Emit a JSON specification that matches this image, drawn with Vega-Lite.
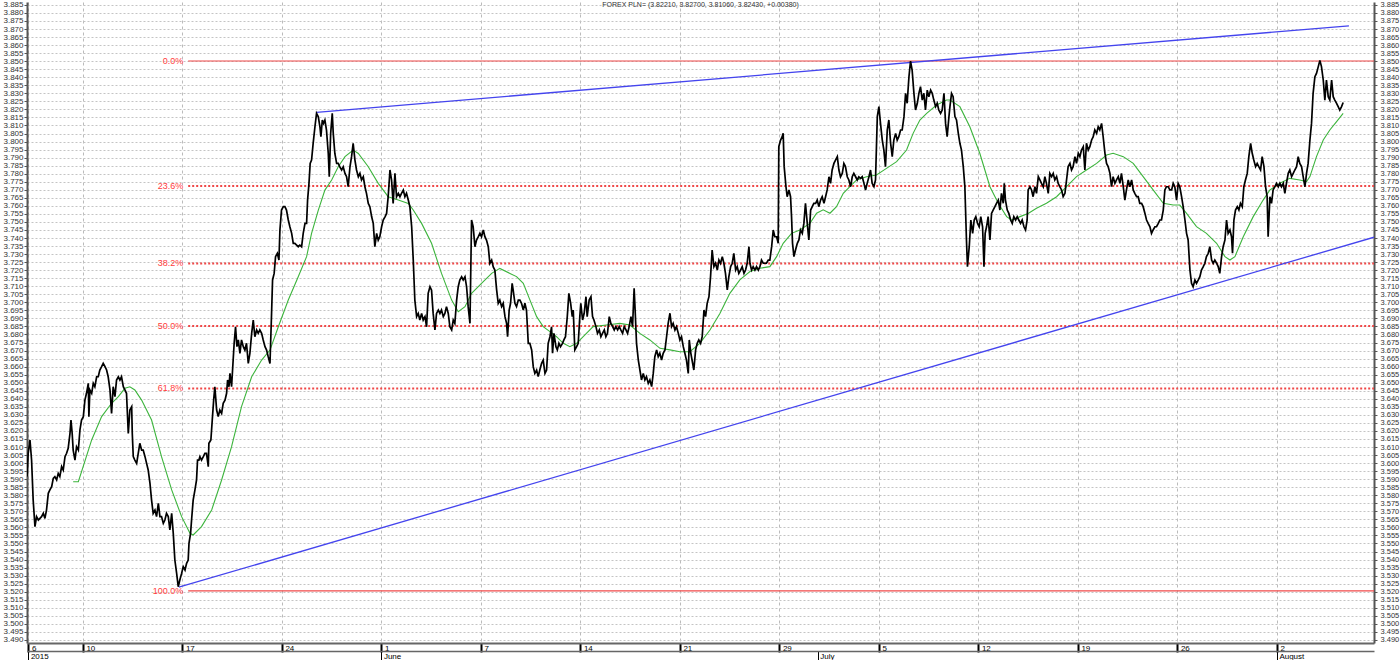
{
"$schema": "https://vega.github.io/schema/vega-lite/v6.json",
"width": 1347, "height": 641,
"autosize": {"type": "none"},
"padding": {"left": 27, "top": 2, "right": 26, "bottom": 17},
"background": "white",
"title": {"text": "FOREX PLN= (3.82210, 3.82700, 3.81060, 3.82430, +0.00380)", "fontSize": 7, "fontWeight": "normal", "font": "Liberation Sans", "color": "#333333", "anchor": "middle", "offset": -7},
"config": {"view": {"stroke": null}, "axis": {"labelFont": "Liberation Sans", "labelFontSize": 8, "labelColor": "#333333", "title": null}},
"datasets": {
"fib": [
{"level": 0, "label": "0.0%", "v": 3.8501, "t0": 5.29, "t1": 64.88},
{"level": 23.6, "label": "23.6%", "v": 3.7723, "t0": 5.29, "t1": 64.88},
{"level": 38.2, "label": "38.2%", "v": 3.7242, "t0": 5.29, "t1": 64.88},
{"level": 50, "label": "50.0%", "v": 3.6853, "t0": 5.29, "t1": 64.88},
{"level": 61.8, "label": "61.8%", "v": 3.6464, "t0": 5.29, "t1": 64.88},
{"level": 100, "label": "100.0%", "v": 3.5205, "t0": 5.29, "t1": 64.88}
],
"trend": [
{"id": "upper", "t": 11.74, "p": 3.8182}, {"id": "upper", "t": 63.62, "p": 3.8720},
{"id": "lower", "t": 4.82, "p": 3.5228}, {"id": "lower", "t": 64.88, "p": 3.7405}
],
"ma": [
{"t":-0.49,"p":3.5884},{"t":-0.23,"p":3.5884},{"t":0.44,"p":3.6144},{"t":0.94,"p":3.6289},{"t":1.44,"p":3.6372},{"t":1.78,"p":3.6413},{"t":2.11,"p":3.6465},{"t":2.36,"p":3.6475},{"t":2.61,"p":3.6455},{"t":2.95,"p":3.6392},{"t":3.45,"p":3.6268},{"t":3.95,"p":3.6040},{"t":4.46,"p":3.5833},{"t":4.96,"p":3.5667},{"t":5.38,"p":3.5563},{"t":5.54,"p":3.5553},{"t":5.96,"p":3.5605},{"t":6.47,"p":3.5708},{"t":6.97,"p":3.5895},{"t":7.47,"p":3.6102},{"t":7.97,"p":3.6351},{"t":8.48,"p":3.6537},{"t":8.98,"p":3.6641},{"t":9.40,"p":3.6703},{"t":9.82,"p":3.6848},{"t":10.32,"p":3.7014},{"t":10.82,"p":3.7159},{"t":11.24,"p":3.7284},{"t":11.49,"p":3.7429},{"t":11.83,"p":3.7574},{"t":12.16,"p":3.7698},{"t":12.50,"p":3.7761},{"t":12.83,"p":3.7843},{"t":13.17,"p":3.7906},{"t":13.58,"p":3.7947},{"t":13.84,"p":3.7926},{"t":14.34,"p":3.7843},{"t":14.84,"p":3.7740},{"t":15.34,"p":3.7657},{"t":15.85,"p":3.7636},{"t":16.35,"p":3.7615},{"t":16.60,"p":3.7574},{"t":17.02,"p":3.7491},{"t":17.52,"p":3.7367},{"t":18.02,"p":3.7180},{"t":18.53,"p":3.7014},{"t":18.86,"p":3.6942},{"t":19.20,"p":3.6973},{"t":19.53,"p":3.7056},{"t":20.03,"p":3.7118},{"t":20.54,"p":3.7180},
{"t":20.95,"p":3.7211},{"t":21.46,"p":3.7180},{"t":21.79,"p":3.7160},{"t":22.13,"p":3.7118},{"t":22.46,"p":3.7015},{"t":22.80,"p":3.6911},{"t":23.13,"p":3.6849},{"t":23.47,"p":3.6818},{"t":23.80,"p":3.6786},{"t":24.14,"p":3.6745},{"t":24.47,"p":3.6724},{"t":24.81,"p":3.6745},{"t":25.14,"p":3.6786},{"t":25.64,"p":3.6849},{"t":26.31,"p":3.6859},{"t":26.98,"p":3.6869},{"t":27.49,"p":3.6859},{"t":27.99,"p":3.6807},{"t":28.49,"p":3.6766},{"t":29.00,"p":3.6714},{"t":29.50,"p":3.6704},{"t":30.00,"p":3.6693},{"t":30.50,"p":3.6693},{"t":31.00,"p":3.6745},{"t":31.51,"p":3.6828},{"t":32.01,"p":3.6931},{"t":32.51,"p":3.7056},{"t":33.01,"p":3.7140},{"t":33.52,"p":3.7192},{"t":34.02,"p":3.7212},{"t":34.52,"p":3.7222},{"t":34.86,"p":3.7284},{"t":35.19,"p":3.7367},{"t":35.61,"p":3.7429},{"t":36.03,"p":3.7450},{"t":36.53,"p":3.7491},{"t":36.87,"p":3.7554},{"t":37.20,"p":3.7575},{"t":37.54,"p":3.7554},{"t":37.87,"p":3.7595},{"t":38.21,"p":3.7678},{"t":38.54,"p":3.7719},{"t":38.88,"p":3.7761},{"t":39.38,"p":3.7781},{"t":39.88,"p":3.7792},{"t":40.38,"p":3.7833},{"t":40.89,"p":3.7875},{"t":41.39,"p":3.7947},{"t":41.72,"p":3.8051},{"t":42.06,"p":3.8134},{"t":42.40,"p":3.8175},{"t":42.90,"p":3.8227},{"t":43.40,"p":3.8258},
{"t":43.57,"p":3.8258},{"t":44.07,"p":3.8217},{"t":44.57,"p":3.8092},{"t":45.07,"p":3.7927},{"t":45.58,"p":3.7719},{"t":46.00,"p":3.7616},{"t":46.42,"p":3.7533},{"t":46.67,"p":3.7512},{"t":47.09,"p":3.7533},{"t":47.50,"p":3.7553},{"t":47.92,"p":3.7585},{"t":48.42,"p":3.7616},{"t":48.93,"p":3.7657},{"t":49.43,"p":3.7719},{"t":49.93,"p":3.7782},{"t":50.43,"p":3.7823},{"t":50.94,"p":3.7864},{"t":51.44,"p":3.7916},{"t":51.77,"p":3.7927},{"t":52.28,"p":3.7906},{"t":52.78,"p":3.7864},{"t":53.28,"p":3.7782},{"t":53.78,"p":3.7699},{"t":54.29,"p":3.7616},{"t":54.79,"p":3.7605},{"t":55.12,"p":3.7605},{"t":55.46,"p":3.7553},{"t":55.96,"p":3.7471},{"t":56.46,"p":3.7429},{"t":56.97,"p":3.7367},{"t":57.39,"p":3.7284},{"t":57.64,"p":3.7263},{"t":57.89,"p":3.7284},{"t":58.31,"p":3.7408},{"t":58.81,"p":3.7533},{"t":59.31,"p":3.7636},{"t":59.65,"p":3.7699},{"t":60.15,"p":3.7740},{"t":60.65,"p":3.7771},{"t":61.15,"p":3.7761},{"t":61.49,"p":3.7751},{"t":61.66,"p":3.7782},{"t":61.99,"p":3.7906},{"t":62.33,"p":3.8010},{"t":62.66,"p":3.8072},{"t":63.00,"p":3.8124},{"t":63.33,"p":3.8175}
],
"price": [
{"t":-2.81,"p":3.5916},{"t":-2.75,"p":3.6061},{"t":-2.66,"p":3.6144},{"t":-2.58,"p":3.6019},{"t":-2.50,"p":3.5770},{"t":-2.41,"p":3.5605},{"t":-2.33,"p":3.5667},{"t":-2.24,"p":3.5646},{"t":-2.08,"p":3.5667},{"t":-1.99,"p":3.5688},{"t":-1.91,"p":3.5656},{"t":-1.83,"p":3.5708},{"t":-1.74,"p":3.5812},{"t":-1.66,"p":3.5833},{"t":-1.57,"p":3.5853},{"t":-1.49,"p":3.5905},{"t":-1.41,"p":3.5916},{"t":-1.32,"p":3.5895},{"t":-1.24,"p":3.5936},{"t":-1.16,"p":3.5916},{"t":-1.07,"p":3.5978},{"t":-0.99,"p":3.5957},{"t":-0.90,"p":3.6040},{"t":-0.82,"p":3.6061},{"t":-0.74,"p":3.6092},{"t":-0.65,"p":3.6185},{"t":-0.60,"p":3.6268},{"t":-0.54,"p":3.6185},{"t":-0.49,"p":3.6081},{"t":-0.40,"p":3.6019},{"t":-0.32,"p":3.6102},{"t":-0.23,"p":3.6081},{"t":-0.15,"p":3.6206},{"t":-0.07,"p":3.6268},{"t":0.02,"p":3.6289},{"t":0.10,"p":3.6392},{"t":0.18,"p":3.6434},{"t":0.27,"p":3.6496},{"t":0.30,"p":3.6289},{"t":0.35,"p":3.6455},{"t":0.44,"p":3.6434},{"t":0.52,"p":3.6496},{"t":0.60,"p":3.6475},{"t":0.69,"p":3.6537},{"t":0.77,"p":3.6537},{"t":0.85,"p":3.6579},{"t":0.94,"p":3.6600},{"t":1.02,"p":3.6620},{"t":1.11,"p":3.6600},{"t":1.19,"p":3.6579},{"t":1.27,"p":3.6537},{"t":1.36,"p":3.6455},{"t":1.44,"p":3.6309},{"t":1.52,"p":3.6475},{"t":1.61,"p":3.6413},{"t":1.69,"p":3.6517},{"t":1.78,"p":3.6537},{"t":1.86,"p":3.6517},{"t":1.94,"p":3.6537},{"t":2.03,"p":3.6475},{"t":2.11,"p":3.6455},{"t":2.19,"p":3.6434},{"t":2.28,"p":3.6185},{"t":2.36,"p":3.6330},{"t":2.45,"p":3.6351},{"t":2.48,"p":3.6185},{"t":2.53,"p":3.6040},{"t":2.61,"p":3.6019},{"t":2.70,"p":3.5998},{"t":2.78,"p":3.6061},{"t":2.86,"p":3.6123},{"t":2.95,"p":3.6081},{"t":3.03,"p":3.6081},{"t":3.12,"p":3.6040},{"t":3.20,"p":3.5998},{"t":3.28,"p":3.5957},{"t":3.37,"p":3.5874},{"t":3.45,"p":3.5770},{"t":3.53,"p":3.5687},{"t":3.62,"p":3.5708},{"t":3.70,"p":3.5667},{"t":3.79,"p":3.5750},{"t":3.87,"p":3.5667},{"t":3.95,"p":3.5667},{"t":4.04,"p":3.5625},{"t":4.12,"p":3.5646},{"t":4.20,"p":3.5687},{"t":4.29,"p":3.5667},{"t":4.37,"p":3.5584},{"t":4.46,"p":3.5687},{"t":4.54,"p":3.5563},{"t":4.62,"p":3.5397},{"t":4.71,"p":3.5314},{"t":4.79,"p":3.5231},{"t":4.87,"p":3.5273},{"t":4.96,"p":3.5314},{"t":5.04,"p":3.5356},{"t":5.13,"p":3.5335},{"t":5.21,"p":3.5377},{"t":5.29,"p":3.5397},{"t":5.33,"p":3.5501},{"t":5.41,"p":3.5563},{"t":5.46,"p":3.5646},{"t":5.54,"p":3.5770},{"t":5.63,"p":3.5833},{"t":5.71,"p":3.5895},{"t":5.76,"p":3.6019},{"t":5.83,"p":3.6019},{"t":5.88,"p":3.6040},{"t":5.96,"p":3.6019},{"t":6.05,"p":3.6040},{"t":6.13,"p":3.6061},{"t":6.21,"p":3.6061},{"t":6.30,"p":3.5978},{"t":6.33,"p":3.6123},{"t":6.43,"p":3.6144},{"t":6.50,"p":3.6268},{"t":6.57,"p":3.6392},{"t":6.63,"p":3.6475},{"t":6.72,"p":3.6330},{"t":6.80,"p":3.6289},{"t":6.88,"p":3.6330},{"t":6.97,"p":3.6309},{"t":7.05,"p":3.6372},{"t":7.14,"p":3.6392},{"t":7.22,"p":3.6434},{"t":7.27,"p":3.6517},{"t":7.34,"p":3.6475},{"t":7.39,"p":3.6558},{"t":7.47,"p":3.6475},{"t":7.55,"p":3.6641},{"t":7.60,"p":3.6745},{"t":7.67,"p":3.6848},{"t":7.74,"p":3.6724},{"t":7.81,"p":3.6766},{"t":7.89,"p":3.6683},{"t":7.97,"p":3.6766},{"t":8.06,"p":3.6724},{"t":8.14,"p":3.6703},{"t":8.22,"p":3.6745},{"t":8.31,"p":3.6620},{"t":8.39,"p":3.6683},{"t":8.48,"p":3.6807},{"t":8.56,"p":3.6890},{"t":8.64,"p":3.6786},{"t":8.73,"p":3.6828},{"t":8.81,"p":3.6807},{"t":8.89,"p":3.6828},{"t":8.98,"p":3.6807},{"t":9.06,"p":3.6766},{"t":9.15,"p":3.6724},{"t":9.23,"p":3.6703},{"t":9.31,"p":3.6662},{"t":9.40,"p":3.6620},{"t":9.48,"p":3.6931},{"t":9.53,"p":3.7139},{"t":9.61,"p":3.7180},{"t":9.68,"p":3.7284},{"t":9.77,"p":3.7305},{"t":9.85,"p":3.7263},{"t":9.90,"p":3.7450},{"t":9.98,"p":3.7574},{"t":10.07,"p":3.7595},{"t":10.15,"p":3.7595},{"t":10.23,"p":3.7574},{"t":10.32,"p":3.7512},{"t":10.40,"p":3.7470},{"t":10.49,"p":3.7429},{"t":10.57,"p":3.7367},{"t":10.65,"p":3.7367},{"t":10.74,"p":3.7356},{"t":10.82,"p":3.7346},{"t":10.90,"p":3.7356},{"t":10.99,"p":3.7346},{"t":11.07,"p":3.7429},{"t":11.16,"p":3.7491},{"t":11.24,"p":3.7491},{"t":11.29,"p":3.7636},{"t":11.36,"p":3.7740},{"t":11.42,"p":3.7864},{"t":11.49,"p":3.7885},{"t":11.57,"p":3.7989},{"t":11.66,"p":3.8092},{"t":11.74,"p":3.8175},{"t":11.83,"p":3.8154},{"t":11.91,"p":3.8092},{"t":11.96,"p":3.8030},{"t":12.03,"p":3.8134},{"t":12.09,"p":3.8113},{"t":12.16,"p":3.8134},{"t":12.24,"p":3.8071},{"t":12.33,"p":3.7926},{"t":12.38,"p":3.7781},{"t":12.45,"p":3.8051},{"t":12.53,"p":3.8175},{"t":12.58,"p":3.8051},{"t":12.66,"p":3.7926},{"t":12.75,"p":3.7864},{"t":12.83,"p":3.7864},{"t":12.91,"p":3.7843},{"t":13.00,"p":3.7823},{"t":13.08,"p":3.7843},{"t":13.17,"p":3.7802},{"t":13.25,"p":3.7781},{"t":13.33,"p":3.7719},{"t":13.42,"p":3.7843},{"t":13.50,"p":3.7906},{"t":13.58,"p":3.7989},{"t":13.67,"p":3.7885},{"t":13.75,"p":3.7823},{"t":13.84,"p":3.7781},{"t":13.92,"p":3.7802},{"t":14.00,"p":3.7761},{"t":14.09,"p":3.7781},{"t":14.17,"p":3.7719},{"t":14.25,"p":3.7678},{"t":14.34,"p":3.7615},{"t":14.42,"p":3.7595},{"t":14.51,"p":3.7532},{"t":14.59,"p":3.7491},{"t":14.67,"p":3.7346},{"t":14.76,"p":3.7429},{"t":14.84,"p":3.7387},{"t":14.92,"p":3.7408},{"t":15.01,"p":3.7470},{"t":15.09,"p":3.7512},{"t":15.18,"p":3.7532},{"t":15.26,"p":3.7553},{"t":15.34,"p":3.7657},{"t":15.43,"p":3.7823},{"t":15.51,"p":3.7761},{"t":15.59,"p":3.7615},{"t":15.68,"p":3.7802},{"t":15.76,"p":3.7657},{"t":15.85,"p":3.7678},{"t":15.93,"p":3.7657},{"t":16.01,"p":3.7678},{"t":16.10,"p":3.7698},{"t":16.18,"p":3.7657},{"t":16.26,"p":3.7678},{"t":16.35,"p":3.7636},{"t":16.43,"p":3.7595},{"t":16.52,"p":3.7470},{"t":16.60,"p":3.7263},{"t":16.68,"p":3.7014},{"t":16.77,"p":3.6911},{"t":16.85,"p":3.6931},{"t":16.93,"p":3.6890},{"t":17.02,"p":3.6931},{"t":17.10,"p":3.6890},{"t":17.19,"p":3.6911},{"t":17.27,"p":3.6848},{"t":17.35,"p":3.7056},{"t":17.44,"p":3.7097},{"t":17.52,"p":3.7076},{"t":17.60,"p":3.6931},{"t":17.69,"p":3.6828},{"t":17.77,"p":3.6931},{"t":17.86,"p":3.6952},{"t":17.94,"p":3.6931},{"t":18.02,"p":3.6952},{"t":18.11,"p":3.6911},{"t":18.19,"p":3.6931},{"t":18.27,"p":3.6973},{"t":18.36,"p":3.6931},{"t":18.44,"p":3.6848},{"t":18.53,"p":3.6828},{"t":18.61,"p":3.6890},{"t":18.69,"p":3.6869},{"t":18.78,"p":3.7014},{"t":18.86,"p":3.7097},{"t":18.94,"p":3.7139},{"t":19.03,"p":3.7159},{"t":19.11,"p":3.7139},{"t":19.20,"p":3.7159},{"t":19.28,"p":3.7097},{"t":19.36,"p":3.6973},{"t":19.45,"p":3.6869},{"t":19.53,"p":3.7512},{"t":19.61,"p":3.7470},{"t":19.70,"p":3.7346},{"t":19.78,"p":3.7387},{"t":19.87,"p":3.7408},{"t":19.95,"p":3.7429},{"t":20.03,"p":3.7408},{"t":20.12,"p":3.7450},{"t":20.20,"p":3.7408},{"t":20.28,"p":3.7387},{"t":20.37,"p":3.7346},{"t":20.45,"p":3.7242},{"t":20.54,"p":3.7263},{"t":20.62,"p":3.7220},
{"t":20.70,"p":3.7201},{"t":20.79,"p":3.7077},{"t":20.87,"p":3.6994},{"t":20.95,"p":3.7014},{"t":21.04,"p":3.6973},{"t":21.12,"p":3.6994},{"t":21.21,"p":3.6911},{"t":21.29,"p":3.6869},{"t":21.34,"p":3.6786},{"t":21.42,"p":3.6952},{"t":21.49,"p":3.6994},{"t":21.57,"p":3.7118},{"t":21.62,"p":3.7077},{"t":21.71,"p":3.6994},{"t":21.79,"p":3.6973},{"t":21.88,"p":3.7014},{"t":21.96,"p":3.7014},{"t":22.04,"p":3.6994},{"t":22.13,"p":3.6952},{"t":22.21,"p":3.6994},{"t":22.29,"p":3.6952},{"t":22.38,"p":3.6745},{"t":22.46,"p":3.6745},{"t":22.55,"p":3.6704},{"t":22.63,"p":3.6600},{"t":22.71,"p":3.6558},{"t":22.80,"p":3.6579},{"t":22.88,"p":3.6538},{"t":22.96,"p":3.6579},{"t":23.05,"p":3.6621},{"t":23.13,"p":3.6641},{"t":23.22,"p":3.6558},{"t":23.30,"p":3.6579},{"t":23.38,"p":3.6745},{"t":23.47,"p":3.6786},{"t":23.55,"p":3.6848},{"t":23.60,"p":3.6683},{"t":23.67,"p":3.6807},{"t":23.77,"p":3.6724},{"t":23.84,"p":3.6704},{"t":23.92,"p":3.6745},{"t":24.00,"p":3.6724},{"t":24.10,"p":3.6745},{"t":24.17,"p":3.6766},{"t":24.25,"p":3.6786},{"t":24.34,"p":3.6911},{"t":24.42,"p":3.7056},{"t":24.51,"p":3.6994},{"t":24.59,"p":3.6911},{"t":24.64,"p":3.6952},{"t":24.72,"p":3.6704},{"t":24.81,"p":3.6724},{"t":24.89,"p":3.6745},{"t":24.97,"p":3.6911},{"t":25.02,"p":3.6994},{"t":25.11,"p":3.6890},{"t":25.19,"p":3.6932},{"t":25.28,"p":3.7035},{"t":25.34,"p":3.6911},{"t":25.44,"p":3.7014},{"t":25.53,"p":3.7035},{"t":25.61,"p":3.6911},{"t":25.68,"p":3.6890},{"t":25.78,"p":3.6849},{"t":25.86,"p":3.6807},{"t":25.95,"p":3.6828},{"t":26.03,"p":3.6786},{"t":26.11,"p":3.6807},{"t":26.20,"p":3.6828},{"t":26.28,"p":3.6786},{"t":26.36,"p":3.6807},{"t":26.45,"p":3.6911},{"t":26.53,"p":3.6869},{"t":26.62,"p":3.6849},{"t":26.70,"p":3.6828},{"t":26.78,"p":3.6849},{"t":26.87,"p":3.6828},{"t":26.95,"p":3.6849},{"t":27.03,"p":3.6828},{"t":27.12,"p":3.6807},{"t":27.20,"p":3.6849},{"t":27.29,"p":3.6828},{"t":27.37,"p":3.6807},{"t":27.45,"p":3.6849},{"t":27.54,"p":3.6911},{"t":27.62,"p":3.6849},{"t":27.70,"p":3.7087},{"t":27.75,"p":3.6952},{"t":27.82,"p":3.6745},{"t":27.91,"p":3.6641},{"t":27.99,"p":3.6579},{"t":28.07,"p":3.6517},{"t":28.16,"p":3.6558},{"t":28.24,"p":3.6517},{"t":28.32,"p":3.6538},{"t":28.41,"p":3.6496},{"t":28.49,"p":3.6517},{"t":28.58,"p":3.6476},{"t":28.66,"p":3.6558},{"t":28.74,"p":3.6662},{"t":28.83,"p":3.6704},{"t":28.91,"p":3.6662},{"t":28.99,"p":3.6683},{"t":29.08,"p":3.6641},{"t":29.16,"p":3.6683},{"t":29.25,"p":3.6704},{"t":29.33,"p":3.6786},{"t":29.41,"p":3.6869},{"t":29.50,"p":3.6932},{"t":29.58,"p":3.6849},{"t":29.66,"p":3.6869},{"t":29.75,"p":3.6828},{"t":29.83,"p":3.6849},{"t":29.92,"p":3.6807},{"t":30.00,"p":3.6766},{"t":30.08,"p":3.6786},{"t":30.17,"p":3.6724},{"t":30.25,"p":3.6683},{"t":30.33,"p":3.6641},{"t":30.42,"p":3.6558},{"t":30.47,"p":3.6766},{"t":30.55,"p":3.6683},{"t":30.64,"p":3.6621},{"t":30.70,"p":3.6579},{"t":30.79,"p":3.6704},{"t":30.87,"p":3.6745},{"t":30.95,"p":3.6766},{"t":31.04,"p":3.6745},{"t":31.12,"p":3.6786},{"t":31.21,"p":3.6952},{"t":31.29,"p":3.6911},{"t":31.37,"p":3.6994},{"t":31.46,"p":3.7035},{"t":31.54,"p":3.7160},{"t":31.62,"p":3.7325},{"t":31.71,"p":3.7222},{"t":31.79,"p":3.7243},{"t":31.88,"p":3.7201},{"t":31.96,"p":3.7263},{"t":32.04,"p":3.7243},{"t":32.13,"p":3.7284},{"t":32.21,"p":3.7243},{"t":32.29,"p":3.7180},{"t":32.38,"p":3.7077},{"t":32.46,"p":3.7160},{"t":32.55,"p":3.7222},{"t":32.63,"p":3.7243},{"t":32.71,"p":3.7305},{"t":32.80,"p":3.7201},{"t":32.88,"p":3.7222},{"t":32.96,"p":3.7180},{"t":33.05,"p":3.7201},{"t":33.13,"p":3.7222},{"t":33.22,"p":3.7180},{"t":33.30,"p":3.7201},{"t":33.38,"p":3.7243},{"t":33.47,"p":3.7346},{"t":33.52,"p":3.7243},{"t":33.60,"p":3.7201},{"t":33.68,"p":3.7222},{"t":33.77,"p":3.7201},{"t":33.85,"p":3.7222},{"t":33.94,"p":3.7201},{"t":34.02,"p":3.7222},{"t":34.10,"p":3.7263},{"t":34.19,"p":3.7243},{"t":34.27,"p":3.7243},{"t":34.35,"p":3.7243},{"t":34.44,"p":3.7263},{"t":34.52,"p":3.7263},{"t":34.61,"p":3.7346},{"t":34.69,"p":3.7450},{"t":34.77,"p":3.7408},{"t":34.86,"p":3.7408},{"t":34.94,"p":3.7367},{"t":34.97,"p":3.7968},{"t":35.06,"p":3.8009},{"t":35.14,"p":3.8030},{"t":35.19,"p":3.8051},{"t":35.24,"p":3.7844},{"t":35.33,"p":3.7719},{"t":35.39,"p":3.7657},{"t":35.48,"p":3.7699},{"t":35.56,"p":3.7657},{"t":35.61,"p":3.7533},{"t":35.66,"p":3.7367},{"t":35.73,"p":3.7284},{"t":35.81,"p":3.7325},{"t":35.90,"p":3.7367},{"t":35.98,"p":3.7388},{"t":36.06,"p":3.7450},{"t":36.15,"p":3.7429},{"t":36.23,"p":3.7491},{"t":36.31,"p":3.7616},{"t":36.40,"p":3.7491},{"t":36.48,"p":3.7388},{"t":36.57,"p":3.7574},{"t":36.65,"p":3.7595},{"t":36.73,"p":3.7616},{"t":36.82,"p":3.7616},{"t":36.90,"p":3.7636},{"t":36.98,"p":3.7595},{"t":37.07,"p":3.7636},{"t":37.15,"p":3.7657},{"t":37.24,"p":3.7616},{"t":37.32,"p":3.7657},{"t":37.40,"p":3.7699},{"t":37.49,"p":3.7781},{"t":37.57,"p":3.7740},{"t":37.65,"p":3.7823},{"t":37.74,"p":3.7864},{"t":37.82,"p":3.7885},{"t":37.91,"p":3.7906},{"t":37.99,"p":3.7823},{"t":38.07,"p":3.7781},{"t":38.16,"p":3.7802},{"t":38.24,"p":3.7864},{"t":38.32,"p":3.7844},{"t":38.41,"p":3.7781},{"t":38.49,"p":3.7761},{"t":38.58,"p":3.7719},{"t":38.66,"p":3.7781},{"t":38.74,"p":3.7802},{"t":38.83,"p":3.7781},{"t":38.91,"p":3.7761},{"t":38.99,"p":3.7781},{"t":39.08,"p":3.7771},{"t":39.16,"p":3.7781},{"t":39.25,"p":3.7740},{"t":39.33,"p":3.7699},{"t":39.41,"p":3.7740},{"t":39.50,"p":3.7781},{"t":39.58,"p":3.7823},{"t":39.66,"p":3.7740},{"t":39.75,"p":3.7719},{"t":39.83,"p":3.7761},{"t":39.92,"p":3.8155},{"t":40.00,"p":3.8217},{"t":40.08,"p":3.8113},{"t":40.17,"p":3.8009},{"t":40.25,"p":3.7947},{"t":40.33,"p":3.7844},{"t":40.42,"p":3.8072},{"t":40.50,"p":3.8134},{"t":40.59,"p":3.7989},{"t":40.67,"p":3.7906},{"t":40.75,"p":3.8009},{"t":40.84,"p":3.8051},{"t":40.92,"p":3.8009},{"t":41.00,"p":3.8030},{"t":41.09,"p":3.8072},{"t":41.17,"p":3.8072},{"t":41.26,"p":3.8155},{"t":41.34,"p":3.8300},{"t":41.42,"p":3.8238},{"t":41.51,"p":3.8403},{"t":41.59,"p":3.8500},{"t":41.67,"p":3.8445},{"t":41.76,"p":3.8300},{"t":41.84,"p":3.8196},{"t":41.93,"p":3.8238},{"t":42.01,"p":3.8300},{"t":42.09,"p":3.8341},{"t":42.18,"p":3.8258},{"t":42.26,"p":3.8300},{"t":42.34,"p":3.8196},{"t":42.43,"p":3.8320},{"t":42.51,"p":3.8279},{"t":42.60,"p":3.8320},{"t":42.68,"p":3.8300},{"t":42.76,"p":3.8258},{"t":42.85,"p":3.8217},{"t":42.93,"p":3.8238},{"t":43.01,"p":3.8196},{"t":43.10,"p":3.8175},{"t":43.18,"p":3.8196},{"t":43.27,"p":3.8300},{"t":43.35,"p":3.8113},{"t":43.43,"p":3.8030},{"t":43.52,"p":3.8155},
{"t":43.57,"p":3.8217},{"t":43.65,"p":3.8299},{"t":43.73,"p":3.8279},{"t":43.82,"p":3.8155},{"t":43.90,"p":3.8134},{"t":43.99,"p":3.8051},{"t":44.07,"p":3.7989},{"t":44.15,"p":3.7947},{"t":44.24,"p":3.7844},{"t":44.32,"p":3.7719},{"t":44.40,"p":3.7388},{"t":44.45,"p":3.7222},{"t":44.54,"p":3.7346},{"t":44.62,"p":3.7512},{"t":44.71,"p":3.7429},{"t":44.79,"p":3.7512},{"t":44.87,"p":3.7533},{"t":44.96,"p":3.7491},{"t":45.04,"p":3.7470},{"t":45.12,"p":3.7533},{"t":45.21,"p":3.7470},{"t":45.28,"p":3.7222},{"t":45.34,"p":3.7429},{"t":45.41,"p":3.7470},{"t":45.49,"p":3.7533},{"t":45.58,"p":3.7388},{"t":45.66,"p":3.7553},{"t":45.74,"p":3.7574},{"t":45.83,"p":3.7595},{"t":45.91,"p":3.7616},{"t":46.00,"p":3.7636},{"t":46.08,"p":3.7574},{"t":46.16,"p":3.7678},{"t":46.25,"p":3.7616},{"t":46.30,"p":3.7740},{"t":46.36,"p":3.7636},{"t":46.45,"p":3.7574},{"t":46.53,"p":3.7553},{"t":46.62,"p":3.7512},{"t":46.70,"p":3.7491},{"t":46.78,"p":3.7533},{"t":46.87,"p":3.7512},{"t":46.95,"p":3.7533},{"t":47.03,"p":3.7512},{"t":47.12,"p":3.7491},{"t":47.20,"p":3.7512},{"t":47.29,"p":3.7470},{"t":47.37,"p":3.7450},{"t":47.45,"p":3.7512},{"t":47.50,"p":3.7699},{"t":47.59,"p":3.7719},{"t":47.67,"p":3.7699},{"t":47.75,"p":3.7657},{"t":47.84,"p":3.7719},{"t":47.92,"p":3.7678},{"t":48.01,"p":3.7782},{"t":48.09,"p":3.7761},{"t":48.17,"p":3.7740},{"t":48.26,"p":3.7719},{"t":48.34,"p":3.7782},{"t":48.42,"p":3.7740},{"t":48.51,"p":3.7678},{"t":48.59,"p":3.7802},{"t":48.68,"p":3.7782},{"t":48.76,"p":3.7802},{"t":48.84,"p":3.7761},{"t":48.93,"p":3.7782},{"t":49.01,"p":3.7740},{"t":49.09,"p":3.7719},{"t":49.18,"p":3.7699},{"t":49.26,"p":3.7657},{"t":49.35,"p":3.7678},{"t":49.43,"p":3.7761},{"t":49.51,"p":3.7844},{"t":49.60,"p":3.7864},{"t":49.68,"p":3.7823},{"t":49.76,"p":3.7844},{"t":49.85,"p":3.7906},{"t":49.93,"p":3.7864},{"t":50.02,"p":3.7927},{"t":50.10,"p":3.7906},{"t":50.18,"p":3.7947},{"t":50.27,"p":3.7968},{"t":50.35,"p":3.7823},{"t":50.43,"p":3.7989},{"t":50.52,"p":3.7947},{"t":50.60,"p":3.7968},{"t":50.69,"p":3.8010},{"t":50.77,"p":3.8030},{"t":50.85,"p":3.8072},{"t":50.94,"p":3.8051},{"t":51.02,"p":3.8092},{"t":51.10,"p":3.8072},{"t":51.19,"p":3.8113},{"t":51.27,"p":3.8030},{"t":51.36,"p":3.7927},{"t":51.44,"p":3.7864},{"t":51.52,"p":3.7844},{"t":51.61,"p":3.7802},{"t":51.69,"p":3.7719},{"t":51.77,"p":3.7782},{"t":51.86,"p":3.7740},{"t":51.94,"p":3.7761},{"t":52.03,"p":3.7782},{"t":52.11,"p":3.7740},{"t":52.19,"p":3.7802},{"t":52.28,"p":3.7719},{"t":52.36,"p":3.7636},{"t":52.44,"p":3.7699},{"t":52.53,"p":3.7761},{"t":52.61,"p":3.7719},{"t":52.70,"p":3.7761},{"t":52.78,"p":3.7699},{"t":52.86,"p":3.7678},{"t":52.95,"p":3.7657},{"t":53.03,"p":3.7657},{"t":53.11,"p":3.7616},{"t":53.20,"p":3.7616},{"t":53.28,"p":3.7595},{"t":53.37,"p":3.7553},{"t":53.45,"p":3.7512},{"t":53.53,"p":3.7491},{"t":53.62,"p":3.7470},{"t":53.70,"p":3.7429},{"t":53.78,"p":3.7450},{"t":53.87,"p":3.7470},{"t":53.95,"p":3.7470},{"t":54.04,"p":3.7491},{"t":54.12,"p":3.7512},{"t":54.20,"p":3.7512},{"t":54.29,"p":3.7574},{"t":54.37,"p":3.7699},{"t":54.45,"p":3.7719},{"t":54.54,"p":3.7719},{"t":54.62,"p":3.7699},{"t":54.71,"p":3.7699},{"t":54.79,"p":3.7740},{"t":54.87,"p":3.7719},{"t":54.96,"p":3.7636},{"t":55.04,"p":3.7740},{"t":55.12,"p":3.7719},{"t":55.21,"p":3.7657},{"t":55.29,"p":3.7595},{"t":55.38,"p":3.7512},{"t":55.46,"p":3.7429},{"t":55.54,"p":3.7388},{"t":55.63,"p":3.7201},{"t":55.71,"p":3.7118},{"t":55.79,"p":3.7097},{"t":55.88,"p":3.7139},{"t":55.96,"p":3.7118},{"t":56.05,"p":3.7139},{"t":56.13,"p":3.7160},{"t":56.21,"p":3.7201},{"t":56.30,"p":3.7222},{"t":56.38,"p":3.7243},{"t":56.46,"p":3.7284},{"t":56.55,"p":3.7305},{"t":56.63,"p":3.7346},{"t":56.72,"p":3.7263},{"t":56.80,"p":3.7243},{"t":56.88,"p":3.7263},{"t":56.97,"p":3.7243},{"t":57.05,"p":3.7222},{"t":57.13,"p":3.7180},{"t":57.22,"p":3.7284},{"t":57.30,"p":3.7346},{"t":57.39,"p":3.7388},{"t":57.47,"p":3.7512},{"t":57.55,"p":3.7429},{"t":57.64,"p":3.7450},{"t":57.72,"p":3.7408},{"t":57.77,"p":3.7305},{"t":57.84,"p":3.7512},{"t":57.92,"p":3.7574},{"t":58.01,"p":3.7595},{"t":58.09,"p":3.7574},{"t":58.17,"p":3.7616},{"t":58.26,"p":3.7595},{"t":58.34,"p":3.7719},{"t":58.42,"p":3.7761},{"t":58.51,"p":3.7802},{"t":58.59,"p":3.7906},{"t":58.68,"p":3.7989},{"t":58.76,"p":3.7927},{"t":58.84,"p":3.7885},{"t":58.93,"p":3.7844},{"t":59.01,"p":3.7864},{"t":59.09,"p":3.7844},{"t":59.18,"p":3.7823},{"t":59.26,"p":3.7906},{"t":59.35,"p":3.7844},{"t":59.43,"p":3.7719},{"t":59.51,"p":3.7657},{"t":59.56,"p":3.7408},{"t":59.65,"p":3.7657},{"t":59.73,"p":3.7616},{"t":59.81,"p":3.7699},{"t":59.90,"p":3.7719},{"t":59.98,"p":3.7740},{"t":60.07,"p":3.7719},{"t":60.15,"p":3.7740},{"t":60.23,"p":3.7719},{"t":60.32,"p":3.7740},{"t":60.40,"p":3.7678},{"t":60.48,"p":3.7740},{"t":60.57,"p":3.7802},{"t":60.65,"p":3.7823},{"t":60.74,"p":3.7782},{"t":60.82,"p":3.7802},{"t":60.90,"p":3.7823},{"t":60.99,"p":3.7844},{"t":61.07,"p":3.7906},{"t":61.15,"p":3.7864},{"t":61.24,"p":3.7844},{"t":61.32,"p":3.7782},{"t":61.41,"p":3.7719},{"t":61.49,"p":3.7802},{"t":61.57,"p":3.7864},{"t":61.66,"p":3.8010},{"t":61.74,"p":3.8113},{"t":61.82,"p":3.8300},{"t":61.91,"p":3.8403},{"t":61.99,"p":3.8424},{"t":62.08,"p":3.8466},{"t":62.16,"p":3.8505},{"t":62.24,"p":3.8466},{"t":62.33,"p":3.8383},{"t":62.41,"p":3.8258},{"t":62.49,"p":3.8383},{"t":62.58,"p":3.8279},{"t":62.66,"p":3.8258},{"t":62.75,"p":3.8383},{"t":62.83,"p":3.8279},{"t":62.91,"p":3.8258},{"t":63.00,"p":3.8238},{"t":63.08,"p":3.8217},{"t":63.16,"p":3.8196},{"t":63.25,"p":3.8217},{"t":63.33,"p":3.8243}
]
},
"layer": [
{
"data": {"name": "fib"},
"transform": [{"filter": "datum.level == 0 || datum.level == 100"}],
"mark": {"type": "rule", "color": "#f04848", "strokeWidth": 1.2},
"encoding": {
"x": {"field": "t0", "type": "quantitative", "scale": {"domain": [-2.81, 64.88], "nice": false, "zero": false},
"axis": {"orient": "bottom", "values": [-2.74, 0, 5, 10, 15, 20, 25, 30, 35, 40, 45, 50, 55, 60],
"labelExpr": "datum.value < 0 ? '6' : ['10','17','24','1','7','14','21','29','5','12','19','26','2'][round(datum.value/5)]",
"domain": true, "domainColor": "#666666", "domainWidth": 2, "ticks": true, "tickSize": 9, "tickWidth": 2, "tickColor": "#000000",
"labelAlign": "left", "labelBaseline": "top", "labelPadding": -8, "labelOffset": 3, "labelColor": "#000000", "labelOverlap": false, "labelFlush": false,
"grid": true, "gridColor": "#bbbbbb", "gridDash": [3, 3], "gridWidth": 1, "title": null}},
"x2": {"field": "t1"},
"y": {"field": "v", "type": "quantitative", "scale": {"domain": [3.4881, 3.8868], "nice": false, "zero": false},
"axis": {"orient": "left", "values": [3.49,3.495,3.5,3.505,3.51,3.515,3.52,3.525,3.53,3.535,3.54,3.545,3.55,3.555,3.56,3.565,3.57,3.575,3.58,3.585,3.59,3.595,3.6,3.605,3.61,3.615,3.62,3.625,3.63,3.635,3.64,3.645,3.65,3.655,3.66,3.665,3.67,3.675,3.68,3.685,3.69,3.695,3.7,3.705,3.71,3.715,3.72,3.725,3.73,3.735,3.74,3.745,3.75,3.755,3.76,3.765,3.77,3.775,3.78,3.785,3.79,3.795,3.8,3.805,3.81,3.815,3.82,3.825,3.83,3.835,3.84,3.845,3.85,3.855,3.86,3.865,3.87,3.875,3.88,3.885],
"format": ".3f", "domain": true, "domainColor": "#555555", "domainWidth": 2, "tickSize": 3, "tickColor": "#555555", "labelPadding": 1,
"labelOverlap": false, "labelFlush": false, "labelBaseline": "middle", "grid": true, "gridColor": "#c4c4c4", "gridDash": [2, 2], "gridWidth": 1, "title": null}}
}
},
{
"data": {"name": "fib"},
"transform": [{"filter": "datum.level > 0 && datum.level < 100"}],
"mark": {"type": "rule", "color": "#f04848", "strokeWidth": 2, "strokeDash": [2, 2]},
"encoding": {
"x": {"field": "t0", "type": "quantitative", "scale": {"domain": [-2.81, 64.88], "nice": false, "zero": false}, "axis": null},
"x2": {"field": "t1"},
"y": {"field": "v", "type": "quantitative", "scale": {"domain": [3.4881, 3.8868], "nice": false, "zero": false}, "axis": null}
}
},
{
"data": {"name": "fib"},
"mark": {"type": "text", "color": "#ff3b3b", "font": "Liberation Sans", "fontSize": 9, "align": "right", "baseline": "middle", "dx": -5},
"encoding": {
"x": {"field": "t0", "type": "quantitative", "scale": {"domain": [-2.81, 64.88], "nice": false, "zero": false}, "axis": null},
"y": {"field": "v", "type": "quantitative", "scale": {"domain": [3.4881, 3.8868], "nice": false, "zero": false}, "axis": null},
"text": {"field": "label"}
}
},
{
"data": {"name": "trend"},
"mark": {"type": "line", "color": "#4444ee", "strokeWidth": 1.3, "clip": true},
"encoding": {
"x": {"field": "t", "type": "quantitative", "scale": {"domain": [-2.81, 64.88], "nice": false, "zero": false}, "axis": null},
"y": {"field": "p", "type": "quantitative", "scale": {"domain": [3.4881, 3.8868], "nice": false, "zero": false}, "axis": null},
"detail": {"field": "id"}
}
},
{
"data": {"name": "ma"},
"mark": {"type": "line", "color": "#3cb43c", "strokeWidth": 1.1, "clip": true},
"encoding": {
"x": {"field": "t", "type": "quantitative", "scale": {"domain": [-2.81, 64.88], "nice": false, "zero": false}, "axis": null},
"y": {"field": "p", "type": "quantitative", "scale": {"domain": [3.4881, 3.8868], "nice": false, "zero": false}, "axis": null}
}
},
{
"data": {"name": "price"},
"mark": {"type": "line", "color": "#000000", "strokeWidth": 1.7, "clip": true},
"encoding": {
"x": {"field": "t", "type": "quantitative", "scale": {"domain": [-2.81, 64.88], "nice": false, "zero": false},
"axis": {"orient": "bottom", "offset": 8, "values": [-2.74, 15, 36.93, 60],
"labelExpr": "datum.value < 0 ? '2015' : datum.value < 20 ? 'June' : datum.value < 50 ? 'July' : 'August'",
"domain": true, "domainColor": "#666666", "domainWidth": 1.5, "ticks": true, "tickSize": 9, "tickWidth": 1, "tickColor": "#000000",
"labelAlign": "left", "labelBaseline": "top", "labelPadding": -8, "labelOffset": 2, "labelColor": "#000000", "labelOverlap": false, "labelFlush": false,
"grid": false, "title": null}},
"y": {"field": "p", "type": "quantitative", "scale": {"domain": [3.4881, 3.8868], "nice": false, "zero": false},
"axis": {"orient": "right", "values": [3.49,3.495,3.5,3.505,3.51,3.515,3.52,3.525,3.53,3.535,3.54,3.545,3.55,3.555,3.56,3.565,3.57,3.575,3.58,3.585,3.59,3.595,3.6,3.605,3.61,3.615,3.62,3.625,3.63,3.635,3.64,3.645,3.65,3.655,3.66,3.665,3.67,3.675,3.68,3.685,3.69,3.695,3.7,3.705,3.71,3.715,3.72,3.725,3.73,3.735,3.74,3.745,3.75,3.755,3.76,3.765,3.77,3.775,3.78,3.785,3.79,3.795,3.8,3.805,3.81,3.815,3.82,3.825,3.83,3.835,3.84,3.845,3.85,3.855,3.86,3.865,3.87,3.875,3.88,3.885],
"format": ".3f", "domain": true, "domainColor": "#555555", "domainWidth": 2, "tickSize": 3, "tickColor": "#555555", "labelPadding": 3,
"labelFontSize": 7.5, "labelOverlap": false, "labelFlush": false, "labelBaseline": "middle", "grid": false, "title": null}}
}
}
],
"resolve": {"axis": {"x": "independent", "y": "independent"}}
}
